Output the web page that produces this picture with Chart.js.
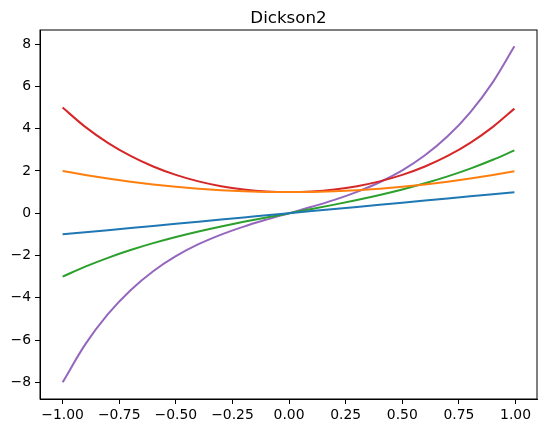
<!DOCTYPE html>
<html>
<head>
<meta charset="utf-8">
<script src="https://cdn.jsdelivr.net/npm/chart.js@4"></script>
<style>
  html, body { margin: 0; padding: 0; background: #fff; }
  #wrap { width: 546px; height: 433px; }
</style>
</head>
<body>
<div id="wrap"><canvas id="chart"></canvas></div>
<script>
// sample positions along x
const xs = [-1, -0.9, -0.8, -0.7, -0.6, -0.5, -0.4, -0.3, -0.2, -0.1, 0,
            0.1, 0.2, 0.3, 0.4, 0.5, 0.6, 0.7, 0.8, 0.9, 0.995];

// series values
const blue   = [-1, -0.9, -0.8, -0.7, -0.6, -0.5, -0.4, -0.3, -0.2, -0.1, 0,
                0.1, 0.2, 0.3, 0.4, 0.5, 0.6, 0.7, 0.8, 0.9, 0.995];
const orange = [2, 1.81, 1.64, 1.49, 1.36, 1.25, 1.16, 1.09, 1.04, 1.01, 1,
                1.01, 1.04, 1.09, 1.16, 1.25, 1.36, 1.49, 1.64, 1.81, 1.99];
const green  = [-3, -2.529, -2.112, -1.743, -1.416, -1.125, -0.864, -0.627, -0.408, -0.201, 0,
                0.201, 0.408, 0.627, 0.864, 1.125, 1.416, 1.743, 2.112, 2.529, 2.975];
const red    = [5, 4.086, 3.33, 2.71, 2.21, 1.813, 1.506, 1.278, 1.122, 1.03, 1,
                1.03, 1.122, 1.278, 1.506, 1.813, 2.21, 2.71, 3.33, 4.086, 4.95];
const purple = [-8, -6.206, -4.776, -3.64, -2.742, -2.031, -1.466, -1.01, -0.632, -0.304, 0,
                0.304, 0.632, 1.01, 1.466, 2.031, 2.742, 3.64, 4.776, 6.206, 7.90];

const xTicks = [-1, -0.75, -0.5, -0.25, 0, 0.25, 0.5, 0.75, 1];
const yTicks = [-8, -6, -4, -2, 0, 2, 4, 6, 8];

const series = [
    { data: blue,   color: '#1f77b4' },
    { data: orange, color: '#ff7f0e' },
    { data: green,  color: '#2ca02c' },
    { data: red,    color: '#d62728' },
    { data: purple, color: '#9467bd' }
];

const tickFont = { family: 'DejaVu Sans', size: 13.9 };
const minus = s => s.replace('-', '\u2212');

// frame + title, matplotlib style
const framePlugin = {
    id: 'frame',
    afterDraw(chart) {
        const { ctx, chartArea: a } = chart;
        ctx.save();
        ctx.strokeStyle = '#000';
        ctx.lineWidth = 1;
        ctx.strokeRect(a.left, a.top, a.right - a.left, a.bottom - a.top);
        ctx.fillStyle = '#000';
        ctx.font = '16.7px "DejaVu Sans"';
        ctx.textAlign = 'center';
        ctx.textBaseline = 'alphabetic';
        ctx.fillText('Dickson2', (a.left + a.right) / 2, a.top - 7.5);
        ctx.restore();
    }
};

new Chart(document.getElementById('chart'), {
    type: 'line',
    data: {
        datasets: series.map(s => ({
            data: xs.map((x, i) => ({ x: x, y: s.data[i] })),
            borderColor: s.color,
            backgroundColor: s.color,
            borderWidth: 2,
            pointRadius: 0,
            fill: false,
            cubicInterpolationMode: 'monotone'
        }))
    },
    options: {
        responsive: true,
        maintainAspectRatio: false,
        animation: false,
        layout: { padding: { top: 30, right: 9, left: 0, bottom: 0 } },
        plugins: {
            legend: { display: false },
            tooltip: { enabled: false }
        },
        scales: {
            x: {
                type: 'linear',
                min: -1.0998,
                max: 1.0948,
                afterBuildTicks: s => { s.ticks = xTicks.map(v => ({ value: v })); },
                afterFit: s => { s.height = 34; },
                grid: { display: true, drawOnChartArea: false, drawTicks: true, tickLength: 5, color: '#000' },
                border: { display: true, color: '#000' },
                ticks: {
                    color: '#000',
                    font: tickFont,
                    padding: 3,
                    maxRotation: 0,
                    callback: v => minus(Number(v).toFixed(2))
                }
            },
            y: {
                type: 'linear',
                min: -8.79,
                max: 8.67,
                afterBuildTicks: s => { s.ticks = yTicks.map(v => ({ value: v })); },
                afterFit: s => { s.width = 40; },
                grid: { display: true, drawOnChartArea: false, drawTicks: true, tickLength: 5, color: '#000' },
                border: { display: true, color: '#000' },
                ticks: {
                    color: '#000',
                    font: tickFont,
                    padding: 4,
                    callback: v => minus(String(v))
                }
            }
        }
    },
    plugins: [framePlugin]
});
</script>
</body>
</html>
